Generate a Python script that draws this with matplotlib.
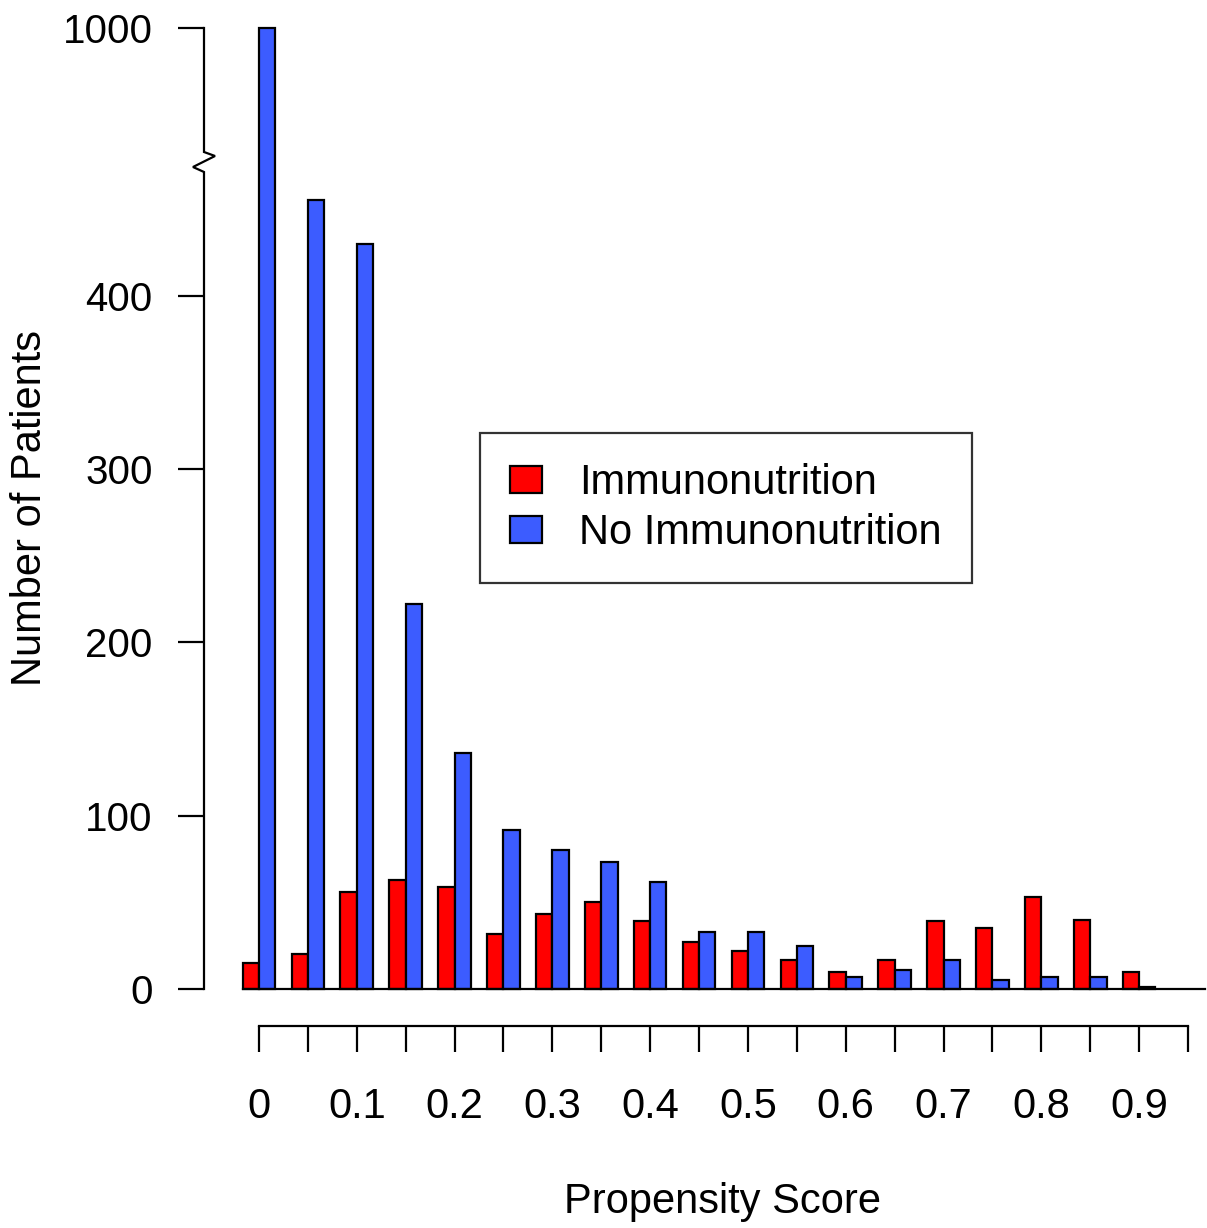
import numpy as np
import matplotlib.pyplot as plt
from matplotlib.patches import Patch

plt.rcParams['font.family'] = ['Liberation Sans', 'DejaVu Sans']

# bin starts of propensity score (width 0.05)
bins = np.arange(0, 0.95, 0.05)
immuno = [15, 20, 56, 63, 59, 32, 43, 50, 39, 27, 22, 17, 10, 17, 39, 35, 53, 40, 10]
no_immuno = [1000, 455, 430, 222, 136, 92, 80, 73, 62, 33, 33, 25, 7, 11, 17, 5, 7, 7, 1]

y_ticks = [0, 100, 200, 300, 400, 1000]
x_ticks = np.arange(0, 0.951, 0.05)
x_labels = ['0', '', '0.1', '', '0.2', '', '0.3', '', '0.4', '', '0.5', '',
            '0.6', '', '0.7', '', '0.8', '', '0.9', '']

# broken y axis: linear up to BRK, compressed above
BRK = 480.0
K = 74.5 / 520.0


def fwd(v):
    v = np.asarray(v, dtype=float)
    return np.where(v <= BRK, v, BRK + (v - BRK) * K)


def inv(u):
    u = np.asarray(u, dtype=float)
    return np.where(u <= BRK, u, BRK + (u - BRK) / K)


W, H = 1207, 1228
PXU = 1.733          # pixels per count (linear part)
PXX = 977.9          # pixels per propensity unit
x0px, y0px = 259, 989
FS = 30

fig = plt.figure(figsize=(W / 100, H / 100), dpi=100)
ax_left, ax_right, ax_top, ax_bot = 204, 1207, 15, 1128
ax = fig.add_axes([ax_left / W, 1 - ax_bot / H, (ax_right - ax_left) / W, (ax_bot - ax_top) / H])
ax.set_yscale('function', functions=(fwd, inv))
ax.set_xlim((ax_left - x0px) / PXX, (ax_right - x0px) / PXX)
ax.set_ylim(float(inv((y0px - ax_bot) / PXU)), float(inv((y0px - ax_top) / PXU)))

red = '#ff0000'
blue = '#3c5cff'
bw = 0.05 / 3
ax.bar(bins - bw / 2, immuno, width=bw, color=red, edgecolor='black', linewidth=1.6)
ax.bar(bins + bw / 2, no_immuno, width=bw, color=blue, edgecolor='black', linewidth=1.6)

# baseline at 0
ax.plot([bins[0] - bw, (1205 - x0px) / PXX], [0, 0], color='black', lw=1.6, clip_on=False)

for s in ['top', 'right', 'left']:
    ax.spines[s].set_visible(False)

# x axis, detached below the bars
ax.spines['bottom'].set_position(('data', -(1026 - y0px) / PXU))
ax.spines['bottom'].set_bounds(0, 0.95)
ax.spines['bottom'].set_linewidth(1.6)
ax.set_xticks(x_ticks)
ax.set_xticklabels(x_labels)
ax.tick_params(axis='x', direction='out', length=19, width=1.6, pad=25, labelsize=FS)

# y axis with zigzag break
ax.set_yticks(y_ticks)
ax.set_yticklabels([str(t) for t in y_ticks])
ax.tick_params(axis='y', direction='out', length=19, width=1.6, pad=18, labelsize=29)
ax.yaxis.set_minor_locator(plt.NullLocator())
xa = ax.get_xlim()[0]
dx = 1.0 / PXX
zz_x = [xa, xa, xa - 11 * dx, xa + 11 * dx, xa, xa]
zz_u = [0, (y0px - 172) / PXU, (y0px - 167) / PXU, (y0px - 156) / PXU, (y0px - 152) / PXU,
        (y0px - 28) / PXU]
ax.plot(zz_x, inv(zz_u), color='black', lw=1.6, clip_on=False, solid_joinstyle='miter')

fig.text(30 / W, 1 - 508 / H, 'Number of Patients', rotation=90, ha='center', va='center', fontsize=FS)
fig.text(723 / W, 1 - 1202 / H, 'Propensity Score', ha='center', va='center', fontsize=FS)

handles = [Patch(facecolor=red, edgecolor='black', lw=1.6, label='Immunonutrition'),
           Patch(facecolor=blue, edgecolor='black', lw=1.6, label='No Immunonutrition')]
leg = ax.legend(handles=handles, loc='upper left', bbox_to_anchor=(480 / W, 1 - 433 / H),
                bbox_transform=fig.transFigure, fontsize=FS, frameon=True, fancybox=False,
                borderaxespad=0, borderpad=0.72, handlelength=0.77, handleheight=0.62,
                handletextpad=0.89, labelspacing=0.24)
leg.get_frame().set_edgecolor('black')
leg.get_frame().set_linewidth(1.6)

fig.savefig('out.png', dpi=100)
